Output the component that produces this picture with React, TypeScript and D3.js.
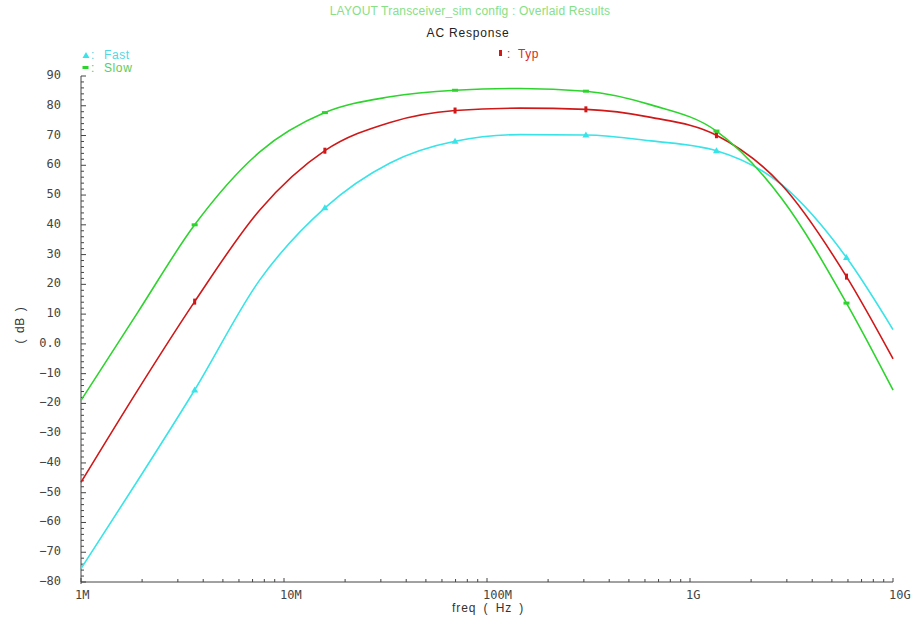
import React from "react";
import * as d3 from "d3";

// Frequency grid (Hz) shared by all three corners
const freqs = [
  1e6, 1.9e6, 3.63e6, 7.6e6, 15.9e6, 33.3e6, 69.6e6, 146e6, 307e6, 643e6,
  1.35e9, 2.84e9, 5.9e9, 1e10,
];

// Gain in dB per process corner
const fastDb = [-75.5, -46, -15.5, 21.5, 45.7, 60.8, 68.1, 70.3, 70.2, 68.2, 64.9, 53.4, 29, 4.8];
const slowDb = [-19, 10.5, 40, 64.5, 77.7, 83, 85.2, 85.8, 84.9, 80.3, 71.5, 48.7, 13.7, -15.5];
const typDb = [-46.5, -15.6, 14.2, 45, 64.9, 74.4, 78.4, 79.2, 78.8, 76.1, 70.1, 53.3, 22.6, -5];

// Frequencies where the corner markers sit
const markerFreqs = [3.63e6, 15.9e6, 69.6e6, 307e6, 1.35e9, 5.9e9];

const xTickLabels = ["1M", "10M", "100M", "1G", "10G"];
const xTickValues = [1e6, 1e7, 1e8, 1e9, 1e10];

const W = 912;
const H = 619;

const x = d3.scaleLog().domain([1e6, 1e10]).range([81, 893]);
const y = d3.scaleLinear().domain([-80, 90]).range([582, 76]);

const MONO = "'DejaVu Sans Mono', monospace";
const SANS = "'Liberation Sans', Arial, sans-serif";

type Series = { name: string; values: number[]; color: string; marker: string };

const series: Series[] = [
  { name: "Fast", values: fastDb, color: "#38e4e8", marker: "tri" },
  { name: "Typ", values: typDb, color: "#d01818", marker: "vbar" },
  { name: "Slow", values: slowDb, color: "#2ed42e", marker: "hbar" },
];

function valueAt(values: number[], f: number): number {
  const i = freqs.indexOf(f);
  return values[i];
}

function Marker({ kind, cx, cy, color }: { kind: string; cx: number; cy: number; color: string }) {
  if (kind === "tri") {
    return (
      <path
        d={`M${cx},${cy - 3.5} L${cx + 3.5},${cy + 2.5} L${cx - 3.5},${cy + 2.5} Z`}
        fill={color}
      />
    );
  }
  if (kind === "vbar") {
    return <rect x={cx - 1.5} y={cy - 3} width={3} height={6} fill={color} />;
  }
  return <rect x={cx - 3} y={cy - 1.5} width={6} height={3} fill={color} />;
}

function fmtY(d: number): string {
  if (d === 0) return "0.0";
  return d < 0 ? "\u2212" + Math.abs(d) : String(d);
}

export default function App() {
  const line = d3
    .line<number>()
    .x((_, i) => x(freqs[i]))
    .y((v) => y(v))
    .curve(d3.curveMonotoneX);

  const yMajor = d3.range(-80, 91, 10);
  const yMinor = d3.range(-80, 91, 2).filter((v) => v % 10 !== 0);

  const xMinor: number[] = [];
  for (let e = 6; e < 10; e++) {
    for (let m = 2; m <= 9; m++) xMinor.push(m * Math.pow(10, e));
  }

  const axisColor = "#444";

  return (
    <svg
      width={W}
      height={H}
      style={{ position: "absolute", left: 0, top: 0, background: "#fff" }}
    >
      {/* headings */}
      <text
        x={470}
        y={15}
        textAnchor="middle"
        fontFamily={SANS}
        fontSize={12}
        letterSpacing={0.2}
        fill="#86e086"
      >
        LAYOUT Transceiver_sim config : Overlaid Results
      </text>
      <text
        x={468}
        y={37}
        textAnchor="middle"
        fontFamily={SANS}
        fontSize={12}
        letterSpacing={0.8}
        fill="#222"
      >
        AC Response
      </text>

      {/* legend */}
      <path d="M86,52 L89.5,58 L82.5,58 Z" fill="#38e4e8" />
      <text x={91} y={59} fontFamily={SANS} fontSize={12} fill="#4fd8e4">:</text>
      <text x={104} y={59} fontFamily={SANS} fontSize={12} letterSpacing={0.6} fill="#4fd8e4">
        Fast
      </text>
      <rect x={82.5} y={66} width={6} height={3} fill="#2ed42e" />
      <text x={91} y={72} fontFamily={SANS} fontSize={12} fill="#5ccc5c">:</text>
      <text x={104} y={72} fontFamily={SANS} fontSize={12} letterSpacing={0.6} fill="#5ccc5c">
        Slow
      </text>
      <rect x={499} y={50} width={3} height={6} fill="#d01818" />
      <text x={507} y={58} fontFamily={SANS} fontSize={12} fill="#d82828">:</text>
      <text x={518} y={58} fontFamily={SANS} fontSize={12} letterSpacing={0.6} fill="#d82828">
        Typ
      </text>

      {/* y axis */}
      <line x1={81} x2={81} y1={y(90)} y2={y(-80) + 2} stroke={axisColor} strokeWidth={1} />
      {yMajor.map((v) => (
        <g key={"ym" + v}>
          <line x1={81} x2={86} y1={y(v)} y2={y(v)} stroke={axisColor} />
          <text
            x={61}
            y={y(v) - 1}
            textAnchor="end"
            dominantBaseline="central"
            fontFamily={MONO}
            fontSize={12}
            fill="#444"
          >
            {fmtY(v)}
          </text>
        </g>
      ))}
      {yMinor.map((v) => (
        <line key={"yn" + v} x1={81} x2={84} y1={y(v)} y2={y(v)} stroke={axisColor} />
      ))}
      <text
        transform={`translate(20,${325}) rotate(-90)`}
        textAnchor="middle"
        dominantBaseline="central"
        fontFamily={SANS}
        fontSize={12}
        letterSpacing={0.6}
        wordSpacing={2}
        fill="#333"
      >
        ( dB )
      </text>

      {/* x axis */}
      <line x1={81} x2={x(1e10)} y1={582} y2={582} stroke={axisColor} strokeWidth={1} />
      {xMinor.map((f) => (
        <line key={"xn" + f} x1={x(f)} x2={x(f)} y1={582} y2={579} stroke={axisColor} />
      ))}
      {xTickValues.map((f, i) => (
        <g key={"xm" + f}>
          <line x1={x(f)} x2={x(f)} y1={582} y2={578} stroke={axisColor} />
          <text
            x={x(f) - (i === 0 ? 6 : 4)}
            y={599}
            fontFamily={MONO}
            fontSize={12}
            fill="#444"
          >
            {xTickLabels[i]}
          </text>
        </g>
      ))}
      <text
        x={452}
        y={612}
        fontFamily={SANS}
        fontSize={12}
        letterSpacing={0.9}
        wordSpacing={3}
        fill="#333"
      >
        freq ( Hz )
      </text>

      {/* curves */}
      {series.map((s) => (
        <g key={s.name}>
          <path d={line(s.values) || ""} fill="none" stroke={s.color} strokeWidth={1.6} />
          {markerFreqs.map((f) => (
            <Marker
              key={s.name + f}
              kind={s.marker}
              cx={x(f)}
              cy={y(valueAt(s.values, f))}
              color={s.color}
            />
          ))}
        </g>
      ))}
    </svg>
  );
}
